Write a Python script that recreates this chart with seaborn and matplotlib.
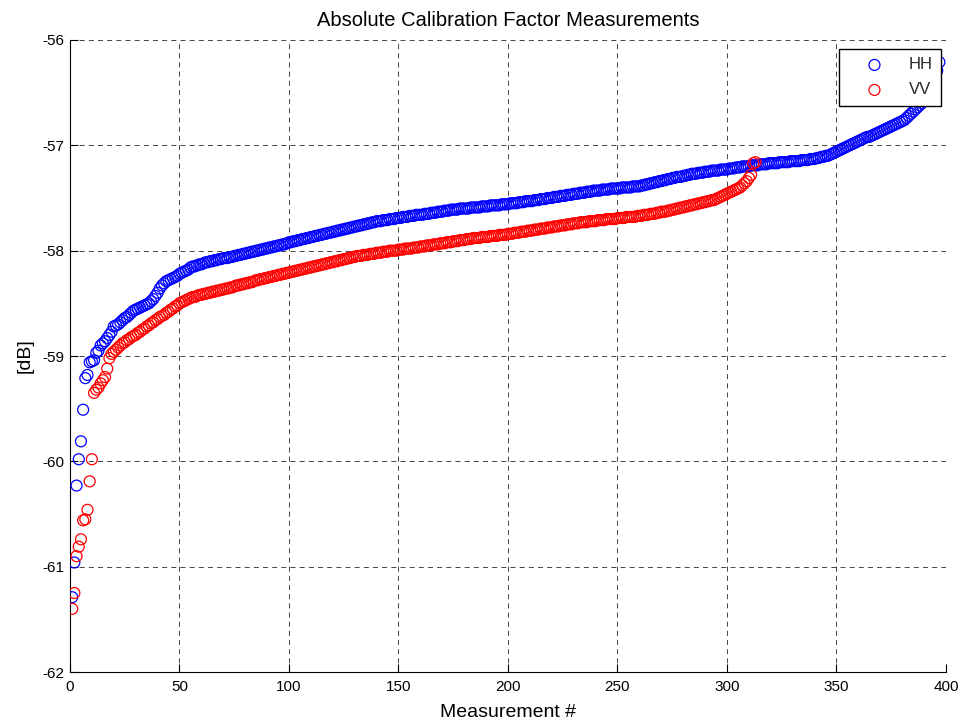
import numpy as np
import pandas as pd
import matplotlib
matplotlib.use("Agg")
import matplotlib.pyplot as plt
import seaborn as sns

hh_values = [
    -61.29, -60.96, -60.23, -59.98, -59.81, -59.51, -59.21, -59.18, -59.06, -59.05,
    -59.04, -58.97, -58.95, -58.90, -58.88, -58.86, -58.83, -58.80, -58.77, -58.72,
    -58.71, -58.70, -58.68, -58.66, -58.64, -58.63, -58.61, -58.59, -58.57, -58.56,
    -58.55, -58.54, -58.53, -58.52, -58.51, -58.50, -58.48, -58.46, -58.43, -58.40,
    -58.36, -58.33, -58.31, -58.29, -58.28, -58.27, -58.26, -58.25, -58.24, -58.22,
    -58.21, -58.20, -58.19, -58.18, -58.16, -58.15, -58.15, -58.14, -58.13, -58.13,
    -58.12, -58.11, -58.11, -58.10, -58.10, -58.09, -58.09, -58.08, -58.08, -58.07,
    -58.07, -58.07, -58.06, -58.06, -58.05, -58.05, -58.04, -58.04, -58.03, -58.03,
    -58.02, -58.02, -58.01, -58.01, -58.00, -58.00, -57.99, -57.99, -57.98, -57.98,
    -57.97, -57.97, -57.96, -57.96, -57.95, -57.95, -57.94, -57.94, -57.93, -57.92,
    -57.92, -57.91, -57.91, -57.90, -57.90, -57.89, -57.89, -57.88, -57.88, -57.87,
    -57.87, -57.86, -57.86, -57.85, -57.85, -57.84, -57.84, -57.83, -57.83, -57.82,
    -57.82, -57.81, -57.81, -57.80, -57.80, -57.79, -57.79, -57.78, -57.78, -57.77,
    -57.77, -57.76, -57.76, -57.75, -57.75, -57.74, -57.74, -57.73, -57.73, -57.72,
    -57.72, -57.72, -57.71, -57.71, -57.71, -57.70, -57.70, -57.70, -57.69, -57.69,
    -57.69, -57.68, -57.68, -57.68, -57.67, -57.67, -57.67, -57.66, -57.66, -57.66,
    -57.66, -57.65, -57.65, -57.65, -57.64, -57.64, -57.64, -57.63, -57.63, -57.63,
    -57.62, -57.62, -57.62, -57.61, -57.61, -57.61, -57.61, -57.60, -57.60, -57.60,
    -57.60, -57.60, -57.59, -57.59, -57.59, -57.59, -57.59, -57.58, -57.58, -57.58,
    -57.58, -57.57, -57.57, -57.57, -57.57, -57.57, -57.56, -57.56, -57.56, -57.56,
    -57.55, -57.55, -57.55, -57.55, -57.54, -57.54, -57.54, -57.53, -57.53, -57.53,
    -57.53, -57.52, -57.52, -57.52, -57.51, -57.51, -57.51, -57.50, -57.50, -57.50,
    -57.49, -57.49, -57.49, -57.48, -57.48, -57.48, -57.47, -57.47, -57.47, -57.46,
    -57.46, -57.46, -57.45, -57.45, -57.45, -57.44, -57.44, -57.44, -57.43, -57.43,
    -57.43, -57.43, -57.42, -57.42, -57.42, -57.42, -57.41, -57.41, -57.41, -57.41,
    -57.41, -57.40, -57.40, -57.40, -57.40, -57.40, -57.39, -57.39, -57.39, -57.39,
    -57.38, -57.38, -57.37, -57.37, -57.36, -57.36, -57.35, -57.35, -57.34, -57.34,
    -57.33, -57.33, -57.32, -57.32, -57.31, -57.31, -57.30, -57.30, -57.30, -57.29,
    -57.29, -57.28, -57.28, -57.27, -57.27, -57.27, -57.26, -57.26, -57.26, -57.25,
    -57.25, -57.25, -57.24, -57.24, -57.24, -57.24, -57.23, -57.23, -57.23, -57.23,
    -57.22, -57.22, -57.22, -57.21, -57.21, -57.21, -57.20, -57.20, -57.20, -57.20,
    -57.19, -57.19, -57.19, -57.19, -57.18, -57.18, -57.18, -57.18, -57.17, -57.17,
    -57.17, -57.17, -57.17, -57.16, -57.16, -57.16, -57.16, -57.16, -57.15, -57.15,
    -57.15, -57.15, -57.15, -57.14, -57.14, -57.14, -57.14, -57.13, -57.13, -57.13,
    -57.12, -57.12, -57.11, -57.11, -57.10, -57.10, -57.09, -57.08, -57.07, -57.06,
    -57.05, -57.04, -57.03, -57.02, -57.01, -57.00, -56.99, -56.98, -56.97, -56.96,
    -56.95, -56.94, -56.93, -56.92, -56.92, -56.91, -56.90, -56.89, -56.88, -56.87,
    -56.86, -56.85, -56.84, -56.83, -56.82, -56.81, -56.80, -56.79, -56.78, -56.77,
    -56.76, -56.74, -56.72, -56.70, -56.68, -56.66, -56.64, -56.62, -56.60, -56.57,
    -56.54, -56.50, -56.46, -56.41, -56.36, -56.29, -56.21,
]

vv_values = [
    -61.40, -61.25, -60.90, -60.81, -60.74, -60.56, -60.55, -60.46, -60.19, -59.98,
    -59.35, -59.32, -59.30, -59.26, -59.23, -59.20, -59.12, -59.02, -58.98, -58.96,
    -58.94, -58.92, -58.90, -58.88, -58.87, -58.85, -58.84, -58.82, -58.81, -58.80,
    -58.78, -58.77, -58.75, -58.74, -58.72, -58.71, -58.69, -58.68, -58.66, -58.65,
    -58.63, -58.62, -58.61, -58.59, -58.58, -58.56, -58.55, -58.53, -58.52, -58.50,
    -58.49, -58.48, -58.47, -58.46, -58.45, -58.44, -58.44, -58.43, -58.42, -58.42,
    -58.41, -58.41, -58.40, -58.40, -58.39, -58.39, -58.38, -58.38, -58.37, -58.37,
    -58.36, -58.36, -58.35, -58.35, -58.34, -58.33, -58.33, -58.32, -58.32, -58.31,
    -58.31, -58.30, -58.30, -58.29, -58.28, -58.28, -58.27, -58.27, -58.26, -58.26,
    -58.25, -58.25, -58.24, -58.24, -58.23, -58.23, -58.22, -58.22, -58.21, -58.21,
    -58.20, -58.20, -58.19, -58.19, -58.18, -58.18, -58.17, -58.17, -58.16, -58.16,
    -58.15, -58.15, -58.14, -58.14, -58.13, -58.13, -58.12, -58.12, -58.11, -58.11,
    -58.10, -58.10, -58.09, -58.09, -58.08, -58.08, -58.07, -58.07, -58.06, -58.06,
    -58.05, -58.05, -58.05, -58.04, -58.04, -58.04, -58.03, -58.03, -58.03, -58.02,
    -58.02, -58.02, -58.01, -58.01, -58.01, -58.00, -58.00, -58.00, -58.00, -57.99,
    -57.99, -57.99, -57.98, -57.98, -57.98, -57.98, -57.97, -57.97, -57.97, -57.96,
    -57.96, -57.96, -57.95, -57.95, -57.95, -57.94, -57.94, -57.94, -57.93, -57.93,
    -57.93, -57.92, -57.92, -57.92, -57.91, -57.91, -57.91, -57.90, -57.90, -57.90,
    -57.89, -57.89, -57.89, -57.88, -57.88, -57.88, -57.88, -57.87, -57.87, -57.87,
    -57.87, -57.86, -57.86, -57.86, -57.86, -57.85, -57.85, -57.85, -57.85, -57.84,
    -57.84, -57.84, -57.83, -57.83, -57.83, -57.82, -57.82, -57.82, -57.81, -57.81,
    -57.81, -57.80, -57.80, -57.80, -57.79, -57.79, -57.79, -57.78, -57.78, -57.78,
    -57.77, -57.77, -57.77, -57.76, -57.76, -57.76, -57.75, -57.75, -57.75, -57.74,
    -57.74, -57.74, -57.73, -57.73, -57.73, -57.73, -57.72, -57.72, -57.72, -57.72,
    -57.71, -57.71, -57.71, -57.71, -57.70, -57.70, -57.70, -57.70, -57.70, -57.69,
    -57.69, -57.69, -57.69, -57.68, -57.68, -57.68, -57.68, -57.68, -57.67, -57.67,
    -57.67, -57.66, -57.66, -57.66, -57.65, -57.65, -57.65, -57.64, -57.64, -57.63,
    -57.63, -57.63, -57.62, -57.62, -57.61, -57.61, -57.60, -57.60, -57.59, -57.59,
    -57.58, -57.58, -57.57, -57.57, -57.56, -57.56, -57.55, -57.55, -57.54, -57.54,
    -57.53, -57.53, -57.52, -57.52, -57.51, -57.50, -57.49, -57.48, -57.47, -57.46,
    -57.45, -57.44, -57.43, -57.42, -57.41, -57.40, -57.38, -57.36, -57.34, -57.31,
    -57.28, -57.17, -57.16,
]

series_names = ["HH", "VV"]
series_colors = {"HH": "#0000ff", "VV": "#ff0000"}
x_ticks = [0, 50, 100, 150, 200, 250, 300, 350, 400]
y_ticks = [-62, -61, -60, -59, -58, -57, -56]

df = pd.concat([
    pd.DataFrame({"idx": np.arange(1, len(hh_values) + 1), "val": hh_values, "pol": "HH"}),
    pd.DataFrame({"idx": np.arange(1, len(vv_values) + 1), "val": vv_values, "pol": "VV"}),
], ignore_index=True)

sns.set_theme(style="white")
plt.rcParams["font.family"] = ["Liberation Sans", "DejaVu Sans"]

fig = plt.figure(figsize=(9.64, 7.23), dpi=100)
ax = fig.add_axes([0.0726, 0.0705, 0.9087, 0.8742])

for name in series_names:
    sub = df[df["pol"] == name]
    sns.scatterplot(data=sub, x="idx", y="val", ax=ax, marker="o", s=62,
                    facecolors="none", edgecolor=series_colors[name],
                    linewidth=0.9, label=name, zorder=3)

ax.set_xlim(0, 400)
ax.set_ylim(-62, -56)
ax.set_xticks(x_ticks)
ax.set_yticks(y_ticks)
ax.set_xticklabels([str(t) for t in x_ticks])
ax.set_yticklabels([str(t) for t in y_ticks])
ax.grid(True, color="black", linestyle=(0, (6, 5)), linewidth=0.6, alpha=0.85)
ax.set_axisbelow(True)
for side in ["top", "right"]:
    ax.spines[side].set_visible(False)
for side in ["left", "bottom"]:
    ax.spines[side].set_color("black")
    ax.spines[side].set_linewidth(0.8)
ax.tick_params(direction="in", length=6, width=0.8, colors="black",
               labelsize=11, left=True, bottom=True)
ax.tick_params(axis="x", pad=6)
ax.tick_params(axis="y", pad=4)

ax.set_title("Absolute Calibration Factor Measurements", fontsize=14.5, color="black", pad=10)
ax.set_xlabel("Measurement #", fontsize=14, color="black", labelpad=7)
ax.set_ylabel("[dB]", fontsize=14, color="black", labelpad=6)

leg = ax.legend(loc="upper right", bbox_to_anchor=(0.9943, 0.9858), frameon=True,
                fancybox=False, edgecolor="black", framealpha=1, fontsize=12,
                borderpad=0.5, handletextpad=0.4, labelspacing=0.6, markerfirst=True,
                borderaxespad=0, handlelength=3.3)
leg.get_frame().set_linewidth(1.0)
leg.set_zorder(10)

fig.savefig("out.png", dpi=100)
